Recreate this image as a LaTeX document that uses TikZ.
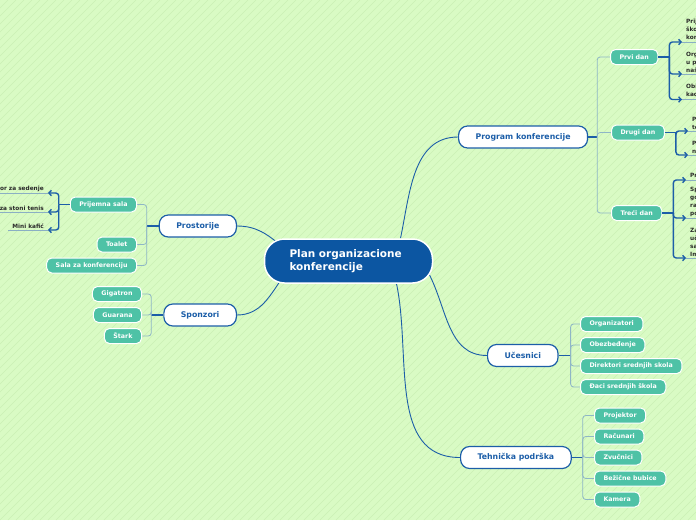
\documentclass[tikz,border=0pt]{standalone}
\usepackage{fontspec}
\setmainfont{DejaVu Sans}
\usetikzlibrary{
    arrows.meta,
    positioning
}
\definecolor{mapbg}{HTML}{D9FBC4}
\definecolor{mapstripe}{HTML}{CBEFB5}
\definecolor{rootblue}{HTML}{0C56A2}
\definecolor{topicblue}{HTML}{1C5EA8}
\definecolor{subteal}{HTML}{4EC2A6}
\definecolor{bracketgray}{HTML}{8EB6C6}
\definecolor{leafline}{HTML}{8AAFC4}
\definecolor{leaftext}{HTML}{2A2A2A}
\pgfdeclarelayer{bg}
\pgfsetlayers{bg,main}
\tikzset{
    every picture/.style = {
        x = 1pt,
        y = 1pt
    },
    root/.style = {
        draw = white,
        line width = 1.5pt,
        fill = rootblue,
        rounded corners = 20pt,
        text width = 118pt,
        inner xsep = 25pt,
        inner ysep = 8pt,
        minimum height = 44pt,
        align = left,
        text = white,
        font = \fontsize{10.5}{13}\selectfont\bfseries
    },
    topic/.style = {
        draw = topicblue,
        line width = 1.2pt,
        fill = white,
        rounded corners = 9pt,
        minimum height = 22pt,
        inner xsep = 17pt,
        text = topicblue,
        font = \fontsize{7.8}{9}\selectfont\bfseries
    },
    subtopic/.style = {
        draw = white,
        line width = 1pt,
        fill = subteal,
        rounded corners = 5pt,
        minimum height = 15pt,
        inner xsep = 9pt,
        text = white,
        font = \fontsize{6.3}{7}\selectfont\bfseries
    },
    leaf/.style = {
        inner xsep = 4pt,
        inner ysep = 1.5pt,
        text = leaftext,
        font = \fontsize{5.8}{7.8}\selectfont\bfseries
    },
    leafR/.style = {leaf, anchor = south west, align = left},
    leafL/.style = {leaf, anchor = south east, align = right},
    stripe/.style = {draw = mapstripe, line width = 0.5pt},
    branch/.style = {draw = topicblue, line width = 0.9pt},
    stub/.style = {draw = topicblue, line width = 1.2pt},
    bracket/.style = {draw = bracketgray, line width = 0.8pt, rounded corners = 3pt},
    leafstub/.style = {draw = topicblue, line width = 1.4pt},
    leafarrow/.style = {
        draw = topicblue,
        line width = 1.4pt,
        rounded corners = 3pt,
        -{Straight Barb[length = 2.5pt, width = 5.5pt]}
    },
    underline/.style = {draw = leafline, line width = 0.8pt}
}

\begin{document}
\begin{tikzpicture}
    \useasboundingbox (0,0) rectangle (696,-520);
    \begin{pgfonlayer}{bg}
        \fill[mapbg] (0,0) rectangle (696,-520);
        \foreach \s in {-520,-512,...,696}
            \draw[stripe] (\s,-520) -- ++(520,520);
    \end{pgfonlayer}

    % central idea
    \node[root] (plan) at (348.5,-261) {Plan organizacione\\konferencije};

    % main topics
    \node[topic, anchor = west] (prog) at (458,-137) {Program konferencije};
    \node[topic, anchor = east] (pros) at (237,-226) {Prostorije};
    \node[topic, anchor = east] (spon) at (237,-315) {Sponzori};
    \node[topic, anchor = west] (uces) at (487,-355.5) {Učesnici};
    \node[topic, anchor = west] (tech) at (460,-457.5) {Tehnička podrška};

    % program konferencije
    \node[subtopic, anchor = west] (dan1) at (610,-57) {Prvi dan};
    \node[subtopic, anchor = west] (dan2) at (611,-132.5) {Drugi dan};
    \node[subtopic, anchor = west] (dan3) at (611,-213) {Treći dan};

    % prostorije
    \node[subtopic, anchor = east] (prijem) at (137,-204.5) {Prijemna sala};
    \node[subtopic, anchor = east] (toalet) at (137,-244.5) {Toalet};
    \node[subtopic, below = 21pt of toalet.east, anchor = east] (salakonf) {Sala za konferenciju};

    % sponzori
    \node[subtopic, anchor = east] (giga) at (142,-294) {Gigatron};
    \node[subtopic, below = 21pt of giga.east, anchor = east] (guarana) {Guarana};
    \node[subtopic, below = 21pt of guarana.east, anchor = east] (stark) {Štark};

    % ucesnici
    \node[subtopic, anchor = west] (org) at (580,-324) {Organizatori};
    \node[subtopic, below = 21pt of org.west, anchor = west] (obez) {Obezbeđenje};
    \node[subtopic, below = 21pt of obez.west, anchor = west] (dir) {Direktori srednjih skola};
    \node[subtopic, below = 21pt of dir.west, anchor = west] (daci) {Đaci srednjih škola};

    % tehnicka podrska
    \node[subtopic, anchor = west] (proj) at (594,-415.5) {Projektor};
    \node[subtopic, below = 21pt of proj.west, anchor = west] (rac) {Računari};
    \node[subtopic, below = 21pt of rac.west, anchor = west] (zvuc) {Zvučnici};
    \node[subtopic, below = 21pt of zvuc.west, anchor = west] (bubice) {Bežične bubice};
    \node[subtopic, below = 21pt of bubice.west, anchor = west] (kam) {Kamera};

    % leaves
    \node[leafL] (sedenje) at (48,-193) {Prostor za sedenje};
    \node[leafL] (tenis) at (48,-212) {Sto za stoni tenis};
    \node[leafL] (kafic) at (48,-230) {Mini kafić};

    \node[leafR] (docek) at (682,-42) {Prijem učenika iz\\škola na\\konferenciju};
    \node[leafR] (organiz) at (682,-74) {Organizovanje\\u prostorijama\\naše škole};
    \node[leafR] (obilazak) at (682,-99.5) {Obilazak škole i\\kacelarija};
    \node[leafR] (predav) at (688,-131) {Predavanja na\\temu};
    \node[leafR] (prezent) at (688,-155) {Prezentacija\\novih};
    \node[leafR] (predzav) at (686,-180) {Predavanja};
    \node[leafR] (gosti) at (686,-218) {Specijalni\\gosti iz\\raznih\\poslovnih};
    \node[leafR] (zahval) at (686,-258) {Zahvalnice\\učesnicima\\sa\\Imenima};

    \begin{pgfonlayer}{bg}
        % branches from the centre
        \draw[branch] ([xshift = 52pt]plan.north) to[out = 78, in = 180] (prog.west);
        \draw[branch] (pros.east) to[out = 0, in = 140] ([shift = {(18,-8)}]plan.north west);
        \draw[branch] (spon.east) to[out = 0, in = 235] ([shift = {(20,8)}]plan.south west);
        \draw[branch] ([shift = {(80,-12)}]plan.center) to[out = -62, in = 180] (uces.west);
        \draw[branch] ([xshift = 48pt]plan.south) to[out = -78, in = 180] (tech.west);

        % brackets to subtopics
        \draw[stub] (prog.east) -- ++(9,0) coordinate (progfork);
        \draw[bracket] (progfork) |- (dan1.west);
        \draw[bracket] (progfork) |- (dan2.west);
        \draw[bracket] (progfork) |- (dan3.west);

        \draw[stub] (pros.west) -- ++(-12,0) coordinate (prosfork);
        \draw[bracket] (prosfork) |- (prijem.east);
        \draw[bracket] (prosfork) |- (toalet.east);
        \draw[bracket] (prosfork) |- (salakonf.east);

        \draw[stub] (spon.west) -- ++(-12,0) coordinate (sponfork);
        \draw[bracket] (sponfork) |- (giga.east);
        \draw[bracket] (sponfork) |- (guarana.east);
        \draw[bracket] (sponfork) |- (stark.east);

        \draw[stub] (uces.east) -- ++(12,0) coordinate (ucesfork);
        \draw[bracket] (ucesfork) |- (org.west);
        \draw[bracket] (ucesfork) |- (obez.west);
        \draw[bracket] (ucesfork) |- (dir.west);
        \draw[bracket] (ucesfork) |- (daci.west);

        \draw[stub] (tech.east) -- ++(11,0) coordinate (techfork);
        \draw[bracket] (techfork) |- (proj.west);
        \draw[bracket] (techfork) |- (rac.west);
        \draw[bracket] (techfork) |- (zvuc.west);
        \draw[bracket] (techfork) |- (bubice.west);
        \draw[bracket] (techfork) |- (kam.west);
    \end{pgfonlayer}

    % arrows to leaves
    \draw[leafstub] (dan1.east) -- ++(11,0) coordinate (dan1fork);
    \draw[leafarrow] (dan1fork) |- (docek.south west);
    \draw[leafarrow] (dan1fork) |- (organiz.south west);
    \draw[leafarrow] (dan1fork) |- (obilazak.south west);

    \draw[leafstub] (dan2.east) -- ++(11,0) coordinate (dan2fork);
    \draw[leafarrow] (dan2fork) |- (predav.south west);
    \draw[leafarrow] (dan2fork) |- (prezent.south west);

    \draw[leafstub] (dan3.east) -- ++(11,0) coordinate (dan3fork);
    \draw[leafarrow] (dan3fork) |- (predzav.south west);
    \draw[leafarrow] (dan3fork) |- (gosti.south west);
    \draw[leafarrow] (dan3fork) |- (zahval.south west);

    \draw[leafstub] (prijem.west) -- ++(-11,0) coordinate (prijemfork);
    \draw[leafarrow] (prijemfork) |- (sedenje.south east);
    \draw[leafarrow] (prijemfork) |- (tenis.south east);
    \draw[leafarrow] (prijemfork) |- (kafic.south east);

    % leaf underlines
    \draw[underline] (sedenje.south west) -- (sedenje.south east);
    \draw[underline] (tenis.south west) -- (tenis.south east);
    \draw[underline] (kafic.south west) -- (kafic.south east);
    \draw[underline] (docek.south west) -- (docek.south east);
    \draw[underline] (organiz.south west) -- (organiz.south east);
    \draw[underline] (obilazak.south west) -- (obilazak.south east);
    \draw[underline] (predav.south west) -- (predav.south east);
    \draw[underline] (prezent.south west) -- (prezent.south east);
    \draw[underline] (predzav.south west) -- (predzav.south east);
    \draw[underline] (gosti.south west) -- (gosti.south east);
    \draw[underline] (zahval.south west) -- (zahval.south east);
\end{tikzpicture}
\end{document}
